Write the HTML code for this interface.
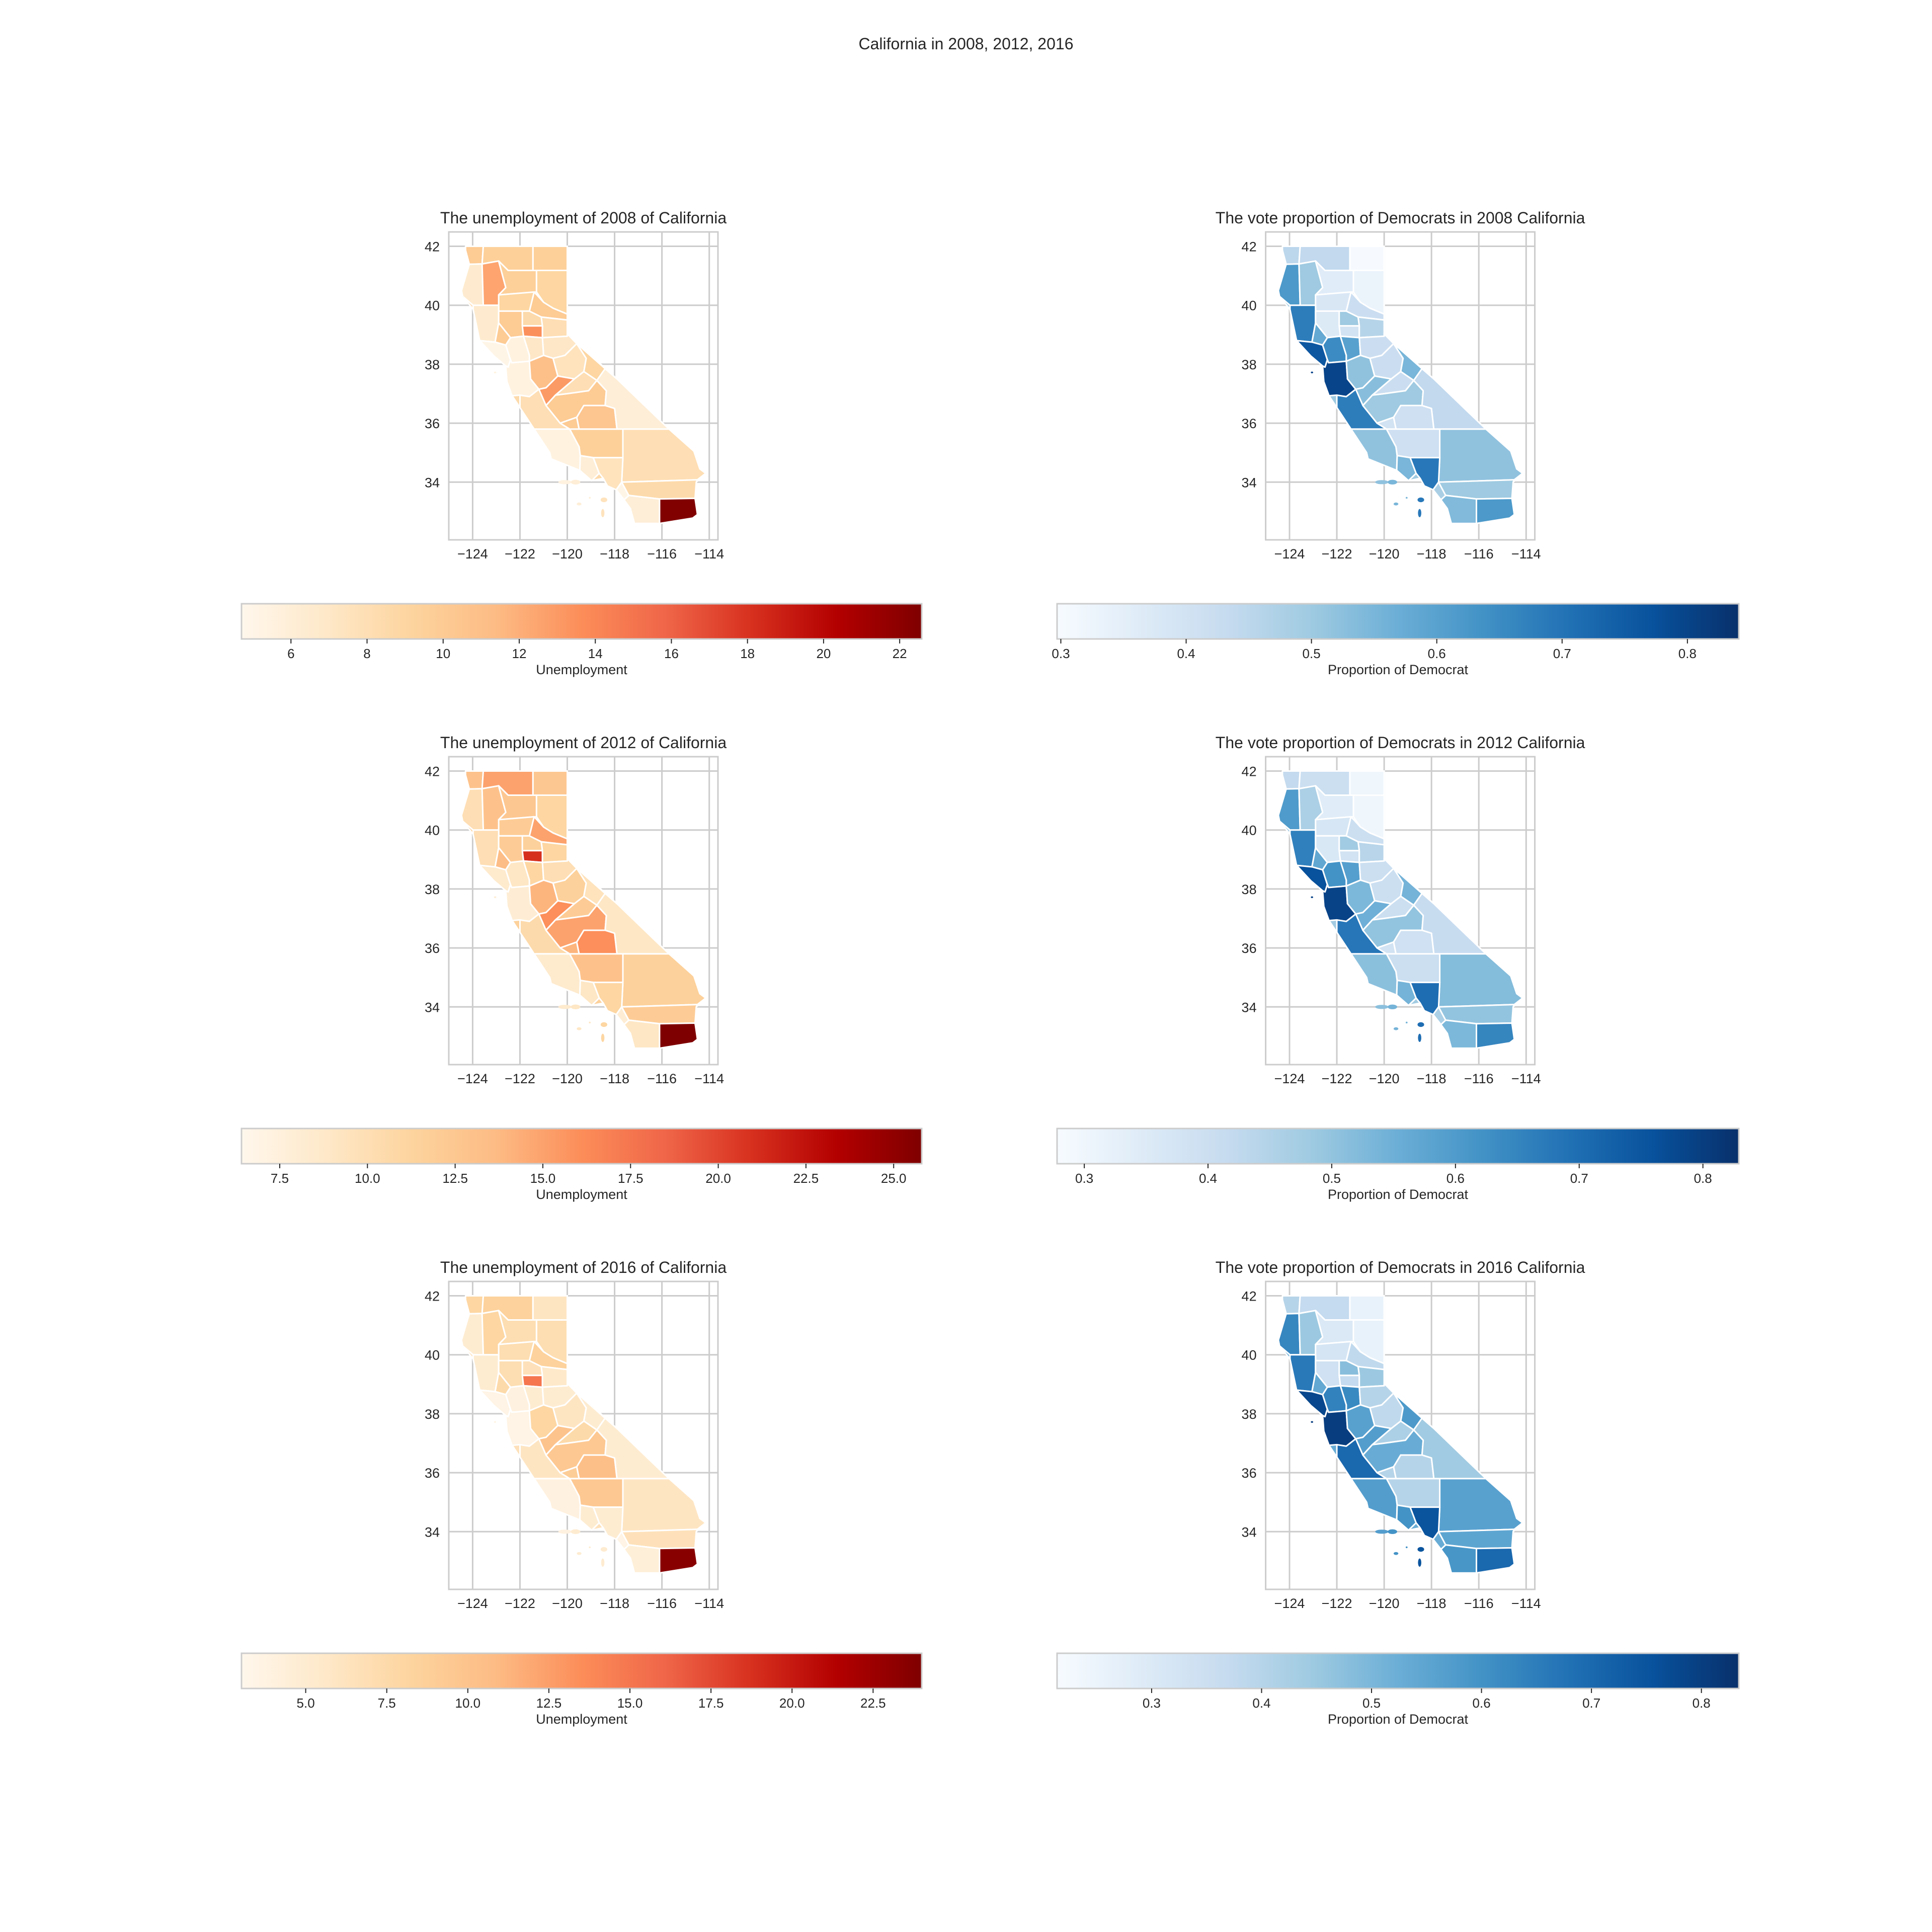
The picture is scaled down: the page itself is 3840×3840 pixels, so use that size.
<!DOCTYPE html>
<html><head><meta charset="utf-8"><style>
html,body{margin:0;padding:0;background:#fff;}
svg{display:block;font-family:"Liberation Sans",sans-serif;}
</style></head><body>
<svg id="fig" xmlns="http://www.w3.org/2000/svg" width="3840" height="3840" viewBox="0 0 3840 3840">
<rect width="3840" height="3840" fill="#fff"/>
<text x="1920" y="98" font-size="32" text-anchor="middle" fill="#262626">California in 2008, 2012, 2016</text>
<g id="root"></g>
</svg>
<script>
// ---- data ----
const years = [2008, 2012, 2016];
const regionNames = ["del-norte","siskiyou","modoc","humboldt","trinity","shasta","lassen","tehama","plumas","mendocino","glenn-colusa","lake","butte","yuba-sutter","sierra-nevada-placer","sonoma-marin","napa-solano","yolo-sacramento","eldorado-amador","bay-core","sanjoaquin-stanislaus","calaveras-tuolumne","mono","merced-sanbenito","madera","monterey","slo-santabarbara","fresno","kings","tulare","inyo","kern","san-bernardino","ventura","los-angeles","orange","riverside","san-diego","imperial"];
const unemp2008 = [10,9.5,9.5,6.5,12.5,9.5,9,9,10,6.5,10,10,8.5,13.5,8,5,5.5,7,7,5.5,11,7.5,9,13,8,8,5.5,10,10,10.5,6,9.5,8,6,7.5,5,8.5,6,22.5];
const unemp2012 = [13,15,12.5,10,13,12.5,11,12,15,10,12,13.5,11.5,21,11,8.5,9,11,10,8,14,11.5,9.5,16,12,10.5,8.5,15,14,16,9,13,11.5,9,11,8,12,9,26];
const unemp2016 = [8,8.5,6,5,8,7,7,7,8.5,5,7,7.5,6.5,15,5.5,3.5,4,5,5,3.5,8,6,5,10,7.5,6,4,9.5,9,10.5,5,9.5,6,5,5,3.5,6.5,4.5,23.5];
const vote2008 = [0.45,0.44,0.30,0.62,0.50,0.36,0.33,0.38,0.42,0.68,0.37,0.58,0.50,0.40,0.46,0.76,0.65,0.60,0.42,0.80,0.52,0.42,0.55,0.53,0.42,0.68,0.52,0.50,0.40,0.41,0.44,0.41,0.52,0.55,0.69,0.48,0.50,0.54,0.62];
const vote2012 = [0.42,0.40,0.30,0.60,0.46,0.34,0.30,0.37,0.40,0.66,0.36,0.57,0.48,0.38,0.44,0.76,0.62,0.59,0.40,0.79,0.53,0.40,0.54,0.55,0.40,0.68,0.51,0.50,0.38,0.39,0.41,0.40,0.52,0.54,0.70,0.46,0.50,0.53,0.65];
const vote2016 = [0.40,0.37,0.26,0.63,0.45,0.30,0.26,0.32,0.38,0.66,0.34,0.54,0.48,0.37,0.45,0.78,0.64,0.62,0.40,0.80,0.56,0.38,0.58,0.57,0.42,0.70,0.57,0.53,0.40,0.40,0.44,0.40,0.56,0.60,0.75,0.53,0.55,0.59,0.70];
const unempRanges = [[4.70,22.58],[6.41,25.8],[3.02,24.0]];
const voteRanges = [[0.297,0.841],[0.278,0.829],[0.214,0.834]];
const unempTicks = [[6,8,10,12,14,16,18,20,22],[7.5,10,12.5,15,17.5,20,22.5,25],[5,7.5,10,12.5,15,17.5,20,22.5]];
const unempTickLabels = [["6","8","10","12","14","16","18","20","22"],["7.5","10.0","12.5","15.0","17.5","20.0","22.5","25.0"],["5.0","7.5","10.0","12.5","15.0","17.5","20.0","22.5"]];
const voteTicks = [[0.3,0.4,0.5,0.6,0.7,0.8],[0.3,0.4,0.5,0.6,0.7,0.8],[0.3,0.4,0.5,0.6,0.7,0.8]];
const voteTickLabels = [["0.3","0.4","0.5","0.6","0.7","0.8"],["0.3","0.4","0.5","0.6","0.7","0.8"],["0.3","0.4","0.5","0.6","0.7","0.8"]];
const lonTicks = [-124,-122,-120,-118,-116,-114];
const latTicks = [34,36,38,40,42];

// geometry (lon/lat)
const outline = [[-124.3,41.97],[-120,42],[-120,39.03],[-117.9,37.5],[-115.7,35.8],[-114.65,35.05],[-114.4,34.45],[-114.15,34.3],[-114.55,34.0],[-114.6,33.5],[-114.5,32.9],[-114.7,32.78],[-117.16,32.6],[-117.33,33.1],[-117.93,33.74],[-118.3,33.87],[-118.48,34.13],[-118.97,34.05],[-119.47,34.4],[-120.68,34.79],[-120.74,35.0],[-121.4,35.8],[-122.0,36.53],[-122.33,36.93],[-122.55,37.41],[-122.6,37.94],[-123.1,38.28],[-123.7,38.8],[-123.98,39.86],[-124.42,40.3],[-124.47,40.5],[-124.14,41.39],[-124.3,41.87]];
const regions = [
[[-124.3,42],[-123.55,42],[-123.6,41.4],[-124.14,41.39],[-124.3,41.87]],
[[-123.55,42],[-121.45,42],[-121.45,41.18],[-122.5,41.18],[-122.9,41.5],[-123.6,41.4]],
[[-121.45,42],[-120,42],[-120,41.18],[-121.45,41.18]],
[[-124.14,41.39],[-123.6,41.4],[-123.55,40.0],[-123.98,40.0],[-124.42,40.3],[-124.47,40.5]],
[[-123.6,41.4],[-122.9,41.5],[-122.6,40.6],[-122.9,40.0],[-123.55,40.0]],
[[-122.9,41.5],[-122.5,41.18],[-121.3,41.18],[-121.3,40.45],[-122.9,40.35],[-122.6,40.6]],
[[-121.3,41.18],[-120,41.18],[-120,39.7],[-120.6,39.9],[-121.0,40.1],[-121.3,40.45]],
[[-122.9,40.35],[-121.4,40.45],[-121.6,39.8],[-122.9,39.8]],
[[-121.4,40.45],[-121.0,40.1],[-120.6,39.9],[-120,39.7],[-120,39.5],[-121.1,39.6],[-121.6,39.8]],
[[-123.98,40.0],[-122.9,40.0],[-122.9,39.4],[-123.05,38.75],[-123.7,38.8],[-123.98,39.86]],
[[-122.9,39.8],[-121.9,39.8],[-121.85,38.95],[-122.4,38.9],[-122.9,39.4]],
[[-122.9,39.4],[-122.4,38.9],[-122.6,38.65],[-123.05,38.75]],
[[-121.9,39.8],[-121.6,39.8],[-121.1,39.6],[-121.05,39.3],[-121.9,39.3]],
[[-121.9,39.3],[-121.05,39.3],[-121.05,38.9],[-121.85,38.95]],
[[-121.1,39.6],[-120,39.5],[-120,38.95],[-121.05,38.9],[-121.05,39.3]],
[[-123.7,38.8],[-123.05,38.75],[-122.6,38.65],[-122.4,38.15],[-122.5,37.9],[-122.6,37.94],[-123.1,38.28]],
[[-122.6,38.65],[-122.4,38.9],[-121.85,38.95],[-121.6,38.3],[-121.6,38.1],[-122.35,38.05],[-122.4,38.15]],
[[-121.85,38.95],[-121.05,38.9],[-121.0,38.3],[-121.6,38.1],[-121.6,38.3]],
[[-121.05,38.9],[-120,38.95],[-120,39.03],[-119.6,38.7],[-120.1,38.3],[-120.6,38.2],[-121.0,38.3]],
[[-122.35,38.05],[-121.6,38.1],[-121.55,37.5],[-121.2,37.15],[-121.6,36.9],[-122.0,36.95],[-122.33,36.93],[-122.55,37.41],[-122.6,37.94],[-122.5,37.9],[-122.4,38.15]],
[[-121.6,38.1],[-121.0,38.3],[-120.6,38.2],[-120.4,37.6],[-120.9,37.2],[-121.2,37.15],[-121.55,37.5]],
[[-120.6,38.2],[-120.1,38.3],[-119.6,38.7],[-119.2,38.2],[-119.3,37.75],[-119.7,37.5],[-120.4,37.6]],
[[-119.6,38.7],[-118.4,37.85],[-118.75,37.45],[-119.3,37.75],[-119.2,38.2]],
[[-120.9,37.2],[-120.4,37.6],[-119.7,37.5],[-120.5,36.95],[-120.9,36.6],[-121.2,37.15]],
[[-119.7,37.5],[-119.3,37.75],[-118.75,37.45],[-119.1,37.1],[-120.0,37.0],[-120.5,36.95]],
[[-121.6,36.9],[-121.2,37.15],[-120.9,36.6],[-120.3,36.0],[-119.9,35.8],[-121.4,35.8],[-122.0,36.53],[-122.0,36.95]],
[[-121.4,35.8],[-119.9,35.8],[-119.5,35.2],[-119.45,34.9],[-119.47,34.4],[-120.68,34.79],[-120.74,35.0]],
[[-120.9,36.6],[-120.5,36.95],[-120.0,37.0],[-119.1,37.1],[-118.75,37.45],[-118.35,37.1],[-118.4,36.6],[-119.3,36.6],[-119.6,36.2],[-120.3,36.0]],
[[-120.3,36.0],[-119.6,36.2],[-119.5,35.8],[-119.9,35.8]],
[[-119.3,36.6],[-118.4,36.6],[-118.0,36.5],[-117.9,35.8],[-119.5,35.8],[-119.6,36.2]],
[[-118.4,37.85],[-117.9,37.5],[-115.7,35.8],[-117.9,35.8],[-118.0,36.5],[-118.4,36.6],[-118.35,37.1],[-118.75,37.45]],
[[-119.9,35.8],[-117.65,35.8],[-117.65,34.83],[-118.9,34.83],[-119.45,34.9],[-119.5,35.2]],
[[-117.65,35.8],[-115.7,35.8],[-114.65,35.05],[-114.4,34.45],[-114.15,34.3],[-114.5,34.08],[-117.7,34.0],[-117.65,34.83]],
[[-119.47,34.4],[-119.45,34.9],[-118.9,34.83],[-118.65,34.3],[-118.97,34.05]],
[[-118.9,34.83],[-117.65,34.83],[-117.7,34.0],[-117.93,33.74],[-118.3,33.87],[-118.48,34.13],[-118.65,34.3]],
[[-117.93,33.74],[-117.7,34.0],[-117.4,33.55],[-117.6,33.4]],
[[-117.7,34.0],[-114.5,34.08],[-114.55,34.0],[-114.6,33.45],[-116.1,33.43],[-117.4,33.55]],
[[-117.6,33.4],[-117.4,33.55],[-116.1,33.43],[-116.1,32.6],[-117.16,32.6],[-117.33,33.1]],
[[-116.1,33.43],[-114.6,33.45],[-114.5,32.9],[-114.7,32.78],[-116.1,32.6]]
];
// islands: [lon, lat, rxDeg, ryDeg, regionIndex]
const islands = [[-120.1,34.0,0.28,0.07,26],[-119.65,34.0,0.2,0.08,33],[-118.45,33.4,0.14,0.08,34],[-118.5,32.95,0.07,0.14,34],[-119.5,33.26,0.1,0.05,33],[-119.05,33.47,0.04,0.03,33],[-123.05,37.72,0.05,0.03,19]];

const orrd = ["#fff7ec","#fee8c8","#fdd49e","#fdbb84","#fc8d59","#ef6548","#d7301f","#b30000","#7f0000"];
const blues = ["#f7fbff","#deebf7","#c6dbef","#9ecae1","#6baed6","#4292c6","#2171b5","#08519c","#08306b"];

// ---- helpers ----
const NS = "http://www.w3.org/2000/svg";
const root = document.getElementById("root");
function mk(tag, attrs, parent){ const e=document.createElementNS(NS,tag); for(const k in attrs) e.setAttribute(k,attrs[k]); (parent||root).appendChild(e); return e; }
function hex(c){return [parseInt(c.substr(1,2),16),parseInt(c.substr(3,2),16),parseInt(c.substr(5,2),16)];}
function cmap(stops,t){ t=Math.max(0,Math.min(1,t)); const p=t*(stops.length-1); const i=Math.min(stops.length-2,Math.floor(p)); const f=p-i; const a=hex(stops[i]),b=hex(stops[i+1]); return "rgb("+a.map((v,k)=>Math.round(v+(b[k]-v)*f)).join(",")+")"; }

const AX = {x0:892, x1:1427, y0:461, y1:1073};
const colOff = [0, 1623.6];
const rowOff = [0, 1043, 2086];
const CB = [{x0:480,x1:1832},{x0:2101,x1:3456}];
function xs(lon,c){ return 939.4 + (lon+124)*47.03 + colOff[c]; }
function ys(lat,r){ return 489.5 + (42-lat)*58.6 + rowOff[r]; }

const unempData = [unemp2008, unemp2012, unemp2016];
const voteData = [vote2008, vote2012, vote2016];
let gid = 0;

for(let r=0;r<3;r++){
  for(let c=0;c<2;c++){
    const isU = c===0;
    const vals = isU ? unempData[r] : voteData[r];
    const rng = isU ? unempRanges[r] : voteRanges[r];
    const stops = isU ? orrd : blues;
    const ox = colOff[c], oy = rowOff[r];
    const g = mk("g",{});
    
    
    const t = mk("text",{x:(AX.x0+AX.x1)/2+ox, y:444+oy, "font-size":32, "text-anchor":"middle", fill:"#262626"}, g);
    t.textContent = isU ? ("The unemployment of "+years[r]+" of California") : ("The vote proportion of Democrats in "+years[r]+" California");
    
    
    lonTicks.forEach((lon,i)=>{
      const x=xs(lon,c);
      const gl=mk("line",{x1:x,x2:x,y1:AX.y0+oy,y2:AX.y1+oy,stroke:"#cccccc","stroke-width":3},g);
      
      
      const tl=mk("text",{x:x,y:AX.y1+oy+37,"font-size":27,"text-anchor":"middle",fill:"#262626"},g);
      tl.textContent = "\u2212"+Math.abs(lon);
      
      
    });
    latTicks.forEach(lat=>{
      const y=ys(lat,r);
      const gl=mk("line",{x1:AX.x0+ox,x2:AX.x1+ox,y1:y,y2:y,stroke:"#cccccc","stroke-width":3},g);
      
      
      const tl=mk("text",{x:AX.x0+ox-18,y:y+10,"font-size":27,"text-anchor":"end",fill:"#262626"},g);
      tl.textContent = String(lat);
      
      
    });
    const sp=mk("rect",{x:AX.x0+ox,y:AX.y0+oy,width:AX.x1-AX.x0,height:AX.y1-AX.y0,fill:"none",stroke:"#cccccc","stroke-width":3},g);
    
    
    const sorted = vals.slice().sort((a,b)=>a-b);
    const med = sorted[Math.floor(sorted.length/2)];
    const base = mk("polygon",{points:outline.map(p=>xs(p[0],c)+","+ys(p[1],r)).join(" "),fill:cmap(stops,(med-rng[0])/(rng[1]-rng[0])),stroke:"#fff","stroke-width":3},g);
    
    
    regions.forEach((poly,i)=>{
      const fill = cmap(stops,(vals[i]-rng[0])/(rng[1]-rng[0]));
      const pg = mk("polygon",{points:poly.map(p=>xs(p[0],c)+","+ys(p[1],r)).join(" "),fill:fill,stroke:"#ffffff","stroke-width":3,"stroke-linejoin":"round"},g);
      
      
    });
    islands.forEach(is=>{
      const fill = cmap(stops,(vals[is[4]]-rng[0])/(rng[1]-rng[0]));
      const el = mk("ellipse",{cx:xs(is[0],c),cy:ys(is[1],r),rx:is[2]*47.03,ry:is[3]*58.6,fill:fill},g);
      
      
    });
    const cb = CB[c];
    const cy0 = 1200+oy, cy1 = 1270+oy;
    const gradId = "grad"+(gid++);
    const defs = mk("defs",{},g);
    const lg = mk("linearGradient",{id:gradId,x1:"0",x2:"1",y1:"0",y2:"0"},defs);
    stops.forEach((s,i)=>mk("stop",{offset:(i/(stops.length-1)),"stop-color":s},lg));
    const bar = mk("rect",{x:cb.x0,y:cy0,width:cb.x1-cb.x0,height:cy1-cy0,fill:"url(#"+gradId+")",stroke:"#cccccc","stroke-width":3},g);
    
    
    const ticks = isU ? unempTicks[r] : voteTicks[r];
    const labels = isU ? unempTickLabels[r] : voteTickLabels[r];
    ticks.forEach((v,i)=>{
      const x = cb.x0 + (v-rng[0])/(rng[1]-rng[0])*(cb.x1-cb.x0);
      const tk = mk("line",{x1:x,x2:x,y1:cy1,y2:cy1+9,stroke:"#262626","stroke-width":2},g);
      
      
      const tl = mk("text",{x:x,y:cy1+38,"font-size":26,"text-anchor":"middle",fill:"#262626"},g);
      tl.textContent = labels[i];
      
      
    });
    const lab = mk("text",{x:(cb.x0+cb.x1)/2,y:cy1+70,"font-size":27,"text-anchor":"middle",fill:"#262626"},g);
    lab.textContent = isU ? "Unemployment" : "Proportion of Democrat";
    
    
  }
}
</script>
</body></html>
